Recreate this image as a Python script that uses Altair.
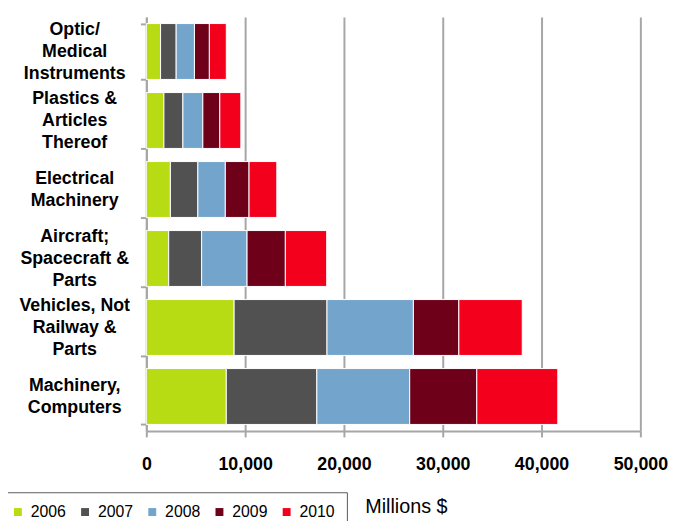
import altair as alt
import pandas as pd

categories = [
    "Optic/|Medical|Instruments",
    "Plastics &|Articles|Thereof",
    "Electrical|Machinery",
    "Aircraft;|Spacecraft &|Parts",
    "Vehicles, Not|Railway &|Parts",
    "Machinery,|Computers",
]
years = ["2006", "2007", "2008", "2009", "2010"]
v2006 = [1440, 1780, 2435, 2265, 8885, 8095]
v2007 = [1580, 1920, 2780, 3330, 9400, 9160]
v2008 = [1850, 2020, 2780, 4600, 8745, 9400]
v2009 = [1510, 1715, 2400, 3875, 4600, 6790]
v2010 = [1715, 2130, 2810, 4185, 6415, 8200]
colors = ["#b8dc14", "#525152", "#73a5cc", "#6e0019", "#f2001c"]
x_ticks = [0, 10000, 20000, 30000, 40000, 50000]

series = [v2006, v2007, v2008, v2009, v2010]
rows = []
for yr, vals in zip(years, series):
    for cat, v in zip(categories, vals):
        rows.append({"category": cat, "year": yr, "value": v})
df = pd.DataFrame(rows)

FONT = "Liberation Sans"
GRAY = "#a6a6a6"

chart = alt.Chart(df).mark_bar(stroke="white", strokeWidth=1).encode(
    x=alt.X(
        "value:Q",
        stack="zero",
        scale=alt.Scale(domain=[0, 50000], nice=False, zero=True),
        axis=alt.Axis(
            values=x_ticks,
            format=",d",
            grid=True,
            gridColor=GRAY,
            gridWidth=2,
            domainColor=GRAY,
            domainWidth=2,
            tickColor=GRAY,
            tickWidth=2,
            tickSize=6,
            labelFlush=False,
            labelOverlap=False,
            labelFont=FONT,
            labelFontSize=18,
            labelFontWeight="bold",
            labelColor="#000000",
            labelPadding=19,
            title="Millions $",
            titleFont=FONT,
            titleFontSize=20,
            titleFontWeight="normal",
            titleColor="#000000",
            titleAlign="left",
            titleBaseline="middle",
            titleX=221,
            titleY=76,
        ),
    ),
    y=alt.Y(
        "category:N",
        sort=categories,
        scale=alt.Scale(paddingInner=0.19, paddingOuter=0.095),
        axis=alt.Axis(
            title=None,
            grid=False,
            domainColor=GRAY,
            domainWidth=2,
            tickColor=GRAY,
            tickWidth=2,
            tickSize=6,
            tickBand="extent",
            labelExpr="split(datum.label, '|')",
            labelAlign="center",
            labelBaseline={
                "condition": {
                    "test": "length(split(datum.value, '|')) > 2",
                    "value": "line-bottom",
                },
                "value": "middle",
            },
            labelOffset=-11,
            labelPadding=67,
            labelFont=FONT,
            labelFontSize=18,
            labelFontWeight="bold",
            labelColor="#000000",
            labelLineHeight=22,
            labelLimit=300,
        ),
    ),
    color=alt.Color(
        "year:N",
        scale=alt.Scale(domain=years, range=colors),
        legend=alt.Legend(
            title=None,
            orient="none",
            legendX=-150,
            legendY=481,
            direction="horizontal",
            columns=5,
            symbolType="square",
            symbolSize=64,
            symbolStrokeWidth=0,
            labelFont=FONT,
            labelFontSize=16,
            labelColor="#000000",
            labelOffset=5,
            columnPadding=11,
            padding=12,
            strokeColor="#595959",
            fillColor="#ffffff",
        ),
    ),
    order=alt.Order("year:N", sort="ascending"),
).properties(
    width=500,
    height=419,
    autosize=alt.AutoSizeParams(type="none"),
    padding={"left": 140, "top": 6, "right": 30, "bottom": 90},
).configure_view(stroke=None)

chart.save("out.html", embed_options={"renderer": "svg", "actions": False})
